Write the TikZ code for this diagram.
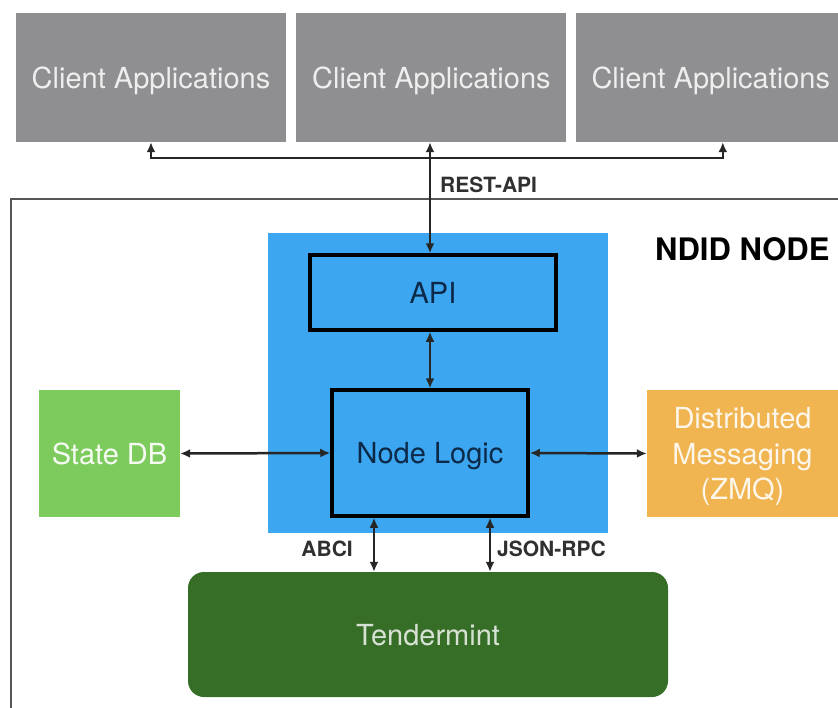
\documentclass[tikz,border=0pt]{standalone}
\usepackage{fontspec}
\setmainfont{TeX Gyre Heros}
\usetikzlibrary{arrows.meta,positioning}

\definecolor{clientgray}{HTML}{8F8E91}
\definecolor{clienttext}{HTML}{EEEEEE}
\definecolor{ndidblue}{HTML}{3DA6F1}
\definecolor{dbgreen}{HTML}{7DCB5D}
\definecolor{zmqorange}{HTML}{F0B450}
\definecolor{tmgreen}{HTML}{376E27}
\definecolor{navytext}{HTML}{0C2A48}
\definecolor{labelgray}{HTML}{303030}
\definecolor{framegray}{HTML}{555555}

\tikzset{
	box/.style={inner sep=0pt, align=center, text depth=0pt, font=\fontsize{29}{35.5}\selectfont},
	client/.style={box, fill=clientgray, text=clienttext, minimum width=270pt, minimum height=129pt},
	layer/.style={box, draw=black, line width=3.5pt, fill=ndidblue, text=navytext},
	side/.style={box, minimum height=127pt},
	wire/.style={line width=2.5pt, draw=black!85},
	tip/.style={-{Latex[length=10pt,width=9pt]}},
	both/.style={{Latex[length=10pt,width=9pt]}-{Latex[length=10pt,width=9pt]}},
	tag/.style={font=\fontsize{21}{21}\bfseries\selectfont, text=labelgray, inner sep=0pt}
}

\begin{document}
\begin{tikzpicture}[x=1pt,y=-1pt]
		\useasboundingbox (0,0) rectangle (838,707);
		\clip (0,0) rectangle (838,707);
		% client row
		\node[client] (cl1) at (151,77.5) {Client Applications};
		\node[client, right=10pt of cl1] (cl2) {Client Applications};
		\node[client, right=9pt of cl2] (cl3) {Client Applications};
		% ndid node frame
		\draw[framegray, line width=2.5pt] (11,720) -- (11,199) -- (850,199);
		\node[font=\fontsize{31}{31}\bfseries\selectfont, anchor=west, inner sep=0pt] (title) at (655,249) {NDID NODE};
		\node[fill=ndidblue, minimum width=340pt, minimum height=300pt, inner sep=0pt] (core) at (438,383) {};
		\node[layer, minimum width=246pt, minimum height=75pt] (api) at (433,292.5) {API};
		\node[layer, minimum width=196pt, minimum height=126pt] (logic) at (430,453) {Node Logic};
		\node[side, fill=dbgreen, text=white!92!dbgreen, minimum width=141pt] (statedb) at (109.5,453.5) {State DB};
		\node[side, fill=zmqorange, text=white!88!zmqorange, minimum width=191pt] (zmq) at (742.5,453.5) {Distributed\\Messaging\\(ZMQ)};
		\node[box, fill=tmgreen, text=white!80!tmgreen, rounded corners=16pt, minimum width=480pt, minimum height=125pt] (tender) at (428,634.5) {Tendermint};
		% connectors
		\coordinate (bus) at (430,158);
		\draw[wire,tip] (bus) -| (cl1.south);
		\draw[wire,tip] (bus) -| ([xshift=12pt]cl3.south);
		\draw[wire,both] (cl2.south -| bus) -- (api.north -| bus);
		\draw[wire,both] (api.south -| bus) -- (logic.north -| bus);
		\draw[wire,both] (statedb.east) -- (logic.west);
		\draw[wire,both] (logic.east) -- (zmq.west);
		\draw[wire,both] ([xshift=-56pt]logic.south) -- ([xshift=-56pt]logic.south |- tender.north);
		\draw[wire,both] ([xshift=60pt]logic.south) -- ([xshift=60pt]logic.south |- tender.north);
		\node[tag, anchor=west] (rest) at (440,185) {REST-API};
		\node[tag, anchor=east] (abci) at (353,549) {ABCI};
		\node[tag, anchor=west] (jrpc) at (497,549) {JSON-RPC};
	\end{tikzpicture}
\end{document}
